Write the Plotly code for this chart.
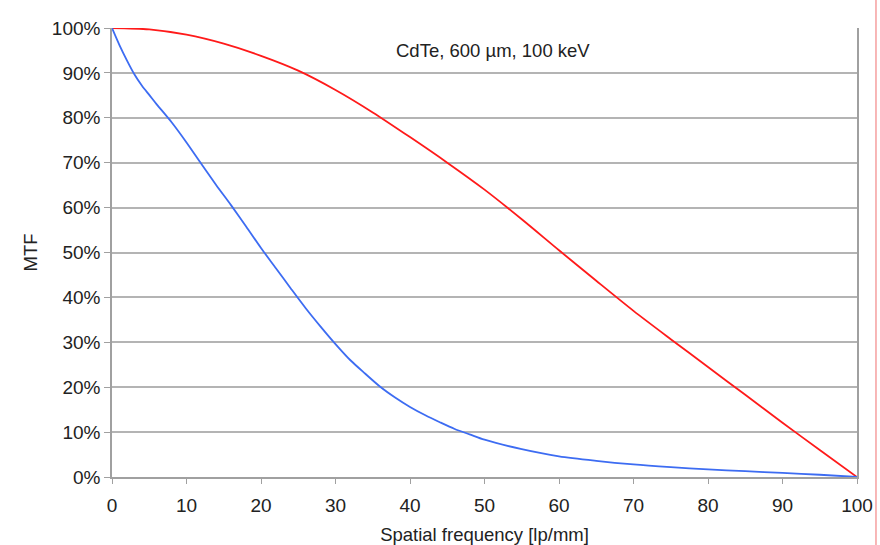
import plotly.graph_objects as go

# Spatial frequency [lp/mm]
blue_x = [0, 1, 2, 3, 4, 5, 6, 8, 10, 12, 14, 16, 18, 20, 22, 24, 26, 28, 30, 32, 34, 36, 38, 40,
          42, 44, 46, 48, 50, 55, 60, 65, 70, 75, 80, 85, 90, 95, 100]
blue_mtf = [1.00, 0.962, 0.928, 0.897, 0.872, 0.851, 0.83, 0.79, 0.745, 0.697, 0.65, 0.605, 0.558,
            0.51, 0.465, 0.42, 0.376, 0.335, 0.296, 0.26, 0.23, 0.201, 0.177, 0.156,
            0.138, 0.122, 0.107, 0.095, 0.083, 0.062, 0.046, 0.036, 0.028, 0.022, 0.017, 0.013,
            0.009, 0.005, 0.0]

red_x = [0, 5, 10, 15, 20, 25, 30, 35, 40, 45, 50, 55, 60, 65, 70, 75, 80, 85, 90, 95, 100]
red_mtf = [1.0, 0.997, 0.985, 0.965, 0.938, 0.905, 0.862, 0.812, 0.757, 0.70, 0.64, 0.574,
           0.505, 0.437, 0.37, 0.307, 0.245, 0.183, 0.121, 0.06, 0.0]

x_ticks = [0, 10, 20, 30, 40, 50, 60, 70, 80, 90, 100]
y_ticks = [0, 0.1, 0.2, 0.3, 0.4, 0.5, 0.6, 0.7, 0.8, 0.9, 1.0]

font = "Liberation Sans, Arial, Helvetica, sans-serif"
text_col = "#222222"

fig = go.Figure()
fig.add_trace(go.Scatter(x=red_x, y=red_mtf, mode="lines",
                         line=dict(color="#ff1a1a", width=1.8, shape="spline", smoothing=0.8),
                         showlegend=False))
fig.add_trace(go.Scatter(x=blue_x, y=blue_mtf, mode="lines",
                         line=dict(color="#3d6cf2", width=1.8, shape="spline", smoothing=0.8),
                         showlegend=False))

fig.add_annotation(text="CdTe, 600 µm, 100 keV", x=0.511, y=0.951, xref="paper", yref="paper",
                   xanchor="center", yanchor="middle",
                   showarrow=False, font=dict(family=font, size=18.5, color=text_col))

# thin red border line on the right edge of the picture
fig.add_shape(type="line", xref="paper", yref="paper", x0=1.0255, x1=1.0255, y0=-0.16, y1=1.07,
              line=dict(color="#f07070", width=1))

fig.update_layout(
    width=880, height=545,
    margin=dict(l=112, r=23, t=28, b=68),
    paper_bgcolor="white", plot_bgcolor="white",
    font=dict(family=font, size=19, color=text_col),
    xaxis=dict(range=[0, 100], tickvals=x_ticks, showgrid=False, zeroline=False, automargin=False,
               showline=True, linecolor="#a0a0a0", linewidth=1.5,
               ticks="outside", ticklen=5, tickcolor="#a0a0a0", ticklabelstandoff=5,
               title=dict(text="Spatial frequency [lp/mm]", font=dict(size=18.5), standoff=14),
               tickfont=dict(size=19)),
    yaxis=dict(range=[0, 1.0], tickvals=y_ticks, tickformat=".0%", showgrid=True, automargin=False,
               gridcolor="#b4b4b4", gridwidth=1.5, zeroline=False,
               showline=True, linecolor="#a0a0a0", linewidth=1.5, mirror=True,
               ticks="outside", ticklen=6, tickcolor="#a0a0a0",
               title=dict(text="MTF", font=dict(size=18.5), standoff=9),
               tickfont=dict(size=19)),
)

fig.write_html("out.html")
